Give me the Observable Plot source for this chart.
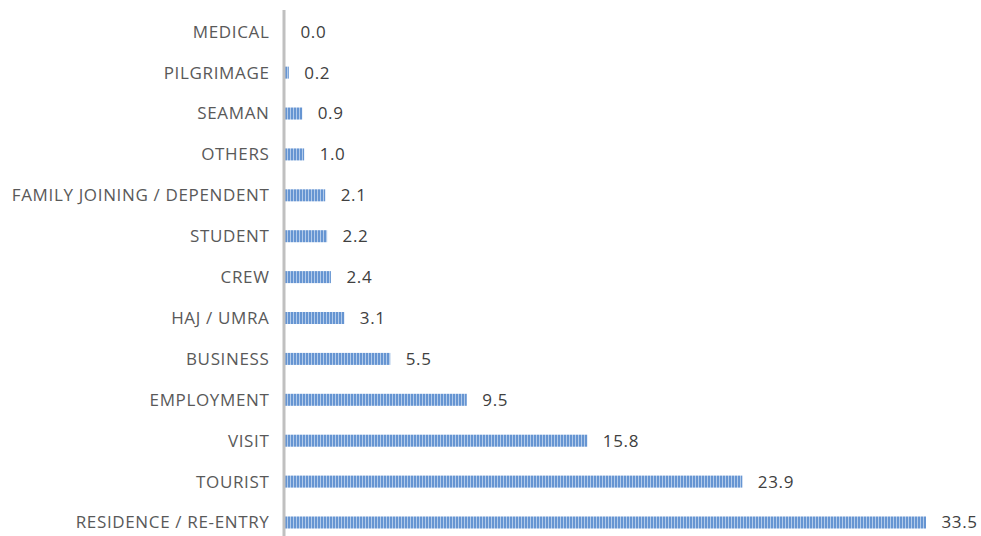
<!DOCTYPE html>
<html>
<head>
<meta charset="utf-8">
<script src="https://cdn.jsdelivr.net/npm/d3@7"></script>
<script src="https://cdn.jsdelivr.net/npm/@observablehq/plot@0.6"></script>
<style>
  html, body { margin: 0; padding: 0; background: #fff; }
  #chart svg { display: block; }
</style>
</head>
<body>
<div id="chart"></div>
<script>
const categories = [
  "MEDICAL", "PILGRIMAGE", "SEAMAN", "OTHERS", "FAMILY JOINING / DEPENDENT",
  "STUDENT", "CREW", "HAJ / UMRA", "BUSINESS", "EMPLOYMENT", "VISIT",
  "TOURIST", "RESIDENCE / RE-ENTRY"
];
const values = [0.0, 0.2, 0.9, 1.0, 2.1, 2.2, 2.4, 3.1, 5.5, 9.5, 15.8, 23.9, 33.5];

const data = categories.map((c, i) => ({category: c, value: values[i]}));

const fontFamily = "'Open Sans', sans-serif";

const chart = Plot.plot({
  width: 981,
  height: 536,
  marginLeft: 285,
  marginRight: 55,
  marginTop: 10,
  marginBottom: 0,
  style: {fontFamily, fontSize: "17px", color: "#595959", background: "#fff", letterSpacing: "0.65px"},
  x: {domain: [0, 33.5], axis: null},
  y: {domain: categories, paddingInner: 0.7066, paddingOuter: 0.284, align: 0.677, round: false, label: null},
  marks: [
    Plot.axisY({tickSize: 0, tickPadding: 16, fontSize: 17, fill: "#595959", label: null}),
    Plot.barX(data, {x: "value", y: "category", fill: "url(#stripes)"}),
    Plot.ruleX([0], {stroke: "#c0c0c0", strokeWidth: 3, dx: -1.5}),
    Plot.text(data, {
      x: "value", y: "category", text: d => d.value.toFixed(1),
      dx: 15, textAnchor: "start", fontSize: 17, fill: "#404040"
    })
  ]
});

const defs = d3.select(chart).insert("defs", ":first-child");
const pat = defs.append("pattern")
  .attr("id", "stripes")
  .attr("patternUnits", "userSpaceOnUse")
  .attr("width", 3).attr("height", 10);
pat.append("rect").attr("width", 3).attr("height", 10).attr("fill", "#b3cbea");
pat.append("rect").attr("width", 2).attr("height", 10).attr("fill", "#6695d2");

document.getElementById("chart").appendChild(chart);
</script>
</body>
</html>
